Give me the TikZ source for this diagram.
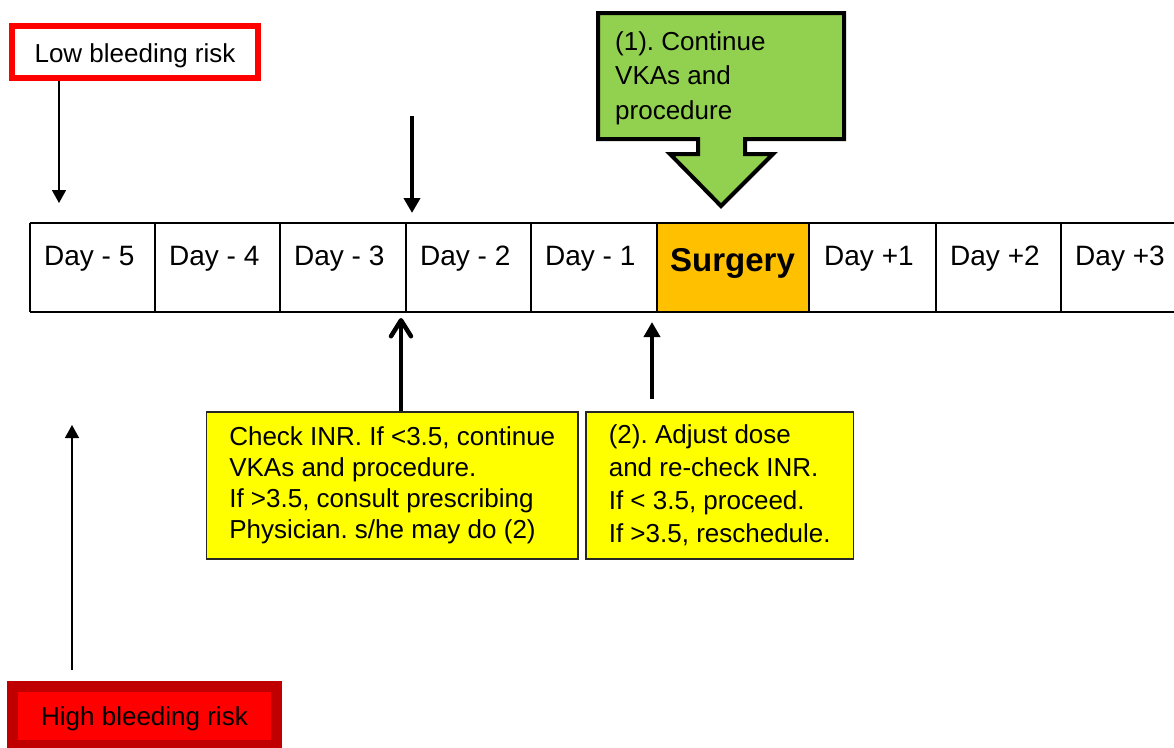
\documentclass[tikz,border=0pt]{standalone}
\usepackage{fontspec}
\setmainfont{Liberation Sans}
\usetikzlibrary{arrows.meta}
\definecolor{vkagreen}{HTML}{92D050}
\definecolor{surgorange}{HTML}{FFC000}
\definecolor{noteyellow}{HTML}{FFFF00}
\definecolor{lowred}{HTML}{FF0000}
\definecolor{darkred}{HTML}{C00000}
\frenchspacing
\begin{document}
\begin{tikzpicture}[x=1pt,y=-1pt,
  daytext/.style={anchor=base west, inner sep=0pt, font=\fontsize{28}{34}\selectfont},
  thinarr/.style={line width=1.5pt, -{Triangle[length=13pt,width=14pt]}},
  thickarr/.style={line width=4.5pt, -{Triangle[length=15pt,width=16pt]}},
  barbarr/.style={line width=4.5pt, -{Straight Barb[round,length=16pt,width=20pt]}},
  ybox/.style={draw=black!85, line width=1.5pt, fill=noteyellow, align=left, inner sep=0pt},
  gridline/.style={line width=2pt}
]
\useasboundingbox (0,0) rectangle (1174,747);
\clip (0,0) rectangle (1174,747);

% low bleeding risk
\node[draw=lowred, line width=5.5pt, minimum width=246pt, minimum height=52pt, inner sep=0pt,
      text height=22pt, text depth=2pt, font=\fontsize{26}{31}\selectfont] (low) at (135,52) {Low bleeding risk};

% green callout
\draw[line width=4pt, fill=vkagreen, line join=miter]
  (598,13) -- (844,13) -- (844,139) -- (745,139) -- (745,154) -- (773,154) -- (721,206)
  -- (670,154) -- (698,154) -- (698,139) -- (598,139) -- cycle;
\node[anchor=north west, inner sep=0pt, align=left, font=\fontsize{26}{34.5}\selectfont] (cont) at (615,31)
  {(1). Continue\\VKAs and\\procedure};

% table
\fill[surgorange] (657,222.7) rectangle (809,311.7);
\draw[gridline] (29.7,222.7) -- (1180,222.7);
\draw[gridline] (29.7,311.7) -- (1180,311.7);
\foreach \x in {29.7,155,280,406,531,657,809,936,1061}
  \draw[gridline] (\x,222.7) -- (\x,311.7);

\node[daytext] (t1) at (44,265) {Day - 5};
\node[daytext] (t2) at (169,265) {Day - 4};
\node[daytext] (t3) at (294,265) {Day - 3};
\node[daytext] (t4) at (420,265) {Day - 2};
\node[daytext] (t5) at (545,265) {Day - 1};
\node[anchor=base west, inner sep=0pt, font=\fontsize{33}{38}\selectfont\bfseries] (surg) at (670,271) {Surgery};
\node[daytext] (t7) at (824,265) {Day +1};
\node[daytext] (t8) at (950,265) {Day +2};
\node[daytext] (t9) at (1075,265) {Day +3};

% yellow notes
\node[ybox, minimum width=371.5pt, minimum height=147pt, font=\fontsize{26}{31}\selectfont] (chk) at (392.25,485.5)
  {Check INR. If <3.5, continue\\VKAs and procedure.\\If >3.5, consult prescribing\\Physician. s/he may do (2)};
\node[ybox, minimum width=267.5pt, minimum height=147pt, font=\fontsize{26}{33}\selectfont] (adj) at (719.75,485.5)
  {(2). Adjust dose\\and re-check INR.\\If < 3.5, proceed.\\If >3.5, reschedule.};

% high bleeding risk
\node[draw=darkred, fill=lowred, line width=11pt, minimum width=264pt, minimum height=59pt, inner sep=0pt,
      text height=20pt, text depth=2pt, font=\fontsize{26}{31}\selectfont] (high) at (144.5,716) {High bleeding risk};

% arrows
\coordinate (lowtip) at (59,203);
\draw[thinarr] (low.south -| lowtip) -- (lowtip);

\coordinate (dtop) at (412,116);
\coordinate (dtip) at (412,213);
\draw[thickarr] (dtop) -- (dtip);

\coordinate (utip) at (401,318);
\draw[barbarr] (chk.north -| utip) -- (utip);

\coordinate (rbot) at (652,399);
\coordinate (rtip) at (652,322);
\draw[thickarr] (rbot) -- (rtip);

\coordinate (hbot) at (72,670);
\coordinate (htip) at (72,425);
\draw[thinarr] (hbot) -- (htip);
\end{tikzpicture}
\end{document}
